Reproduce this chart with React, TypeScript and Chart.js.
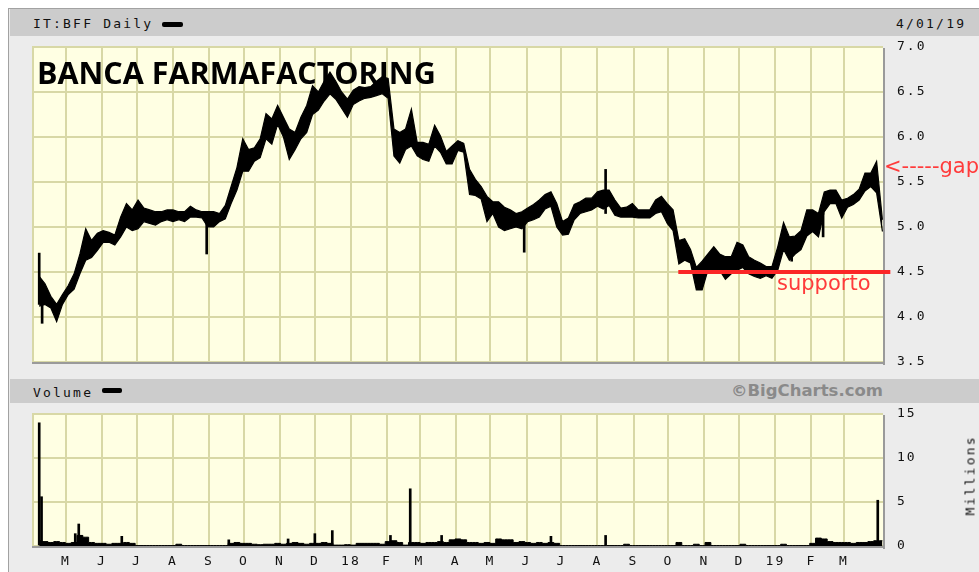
import React, { useEffect, useRef } from "react";
import { Chart, registerables } from "chart.js";

Chart.register(...registerables);

// ---------------- data ----------------
const monthTickLabels = ["M", "J", "J", "A", "S", "O", "N", "D", "18", "F", "M", "A", "M", "J", "J", "A", "S", "O", "N", "D", "19", "F", "M"];
const firstTickMonth = [2017, 4]; // May 2017 (month index 0-based)
const dayZero = [2017, 3, 1]; // 1 April 2017 = day 0
const axisStartDay = 0.8;
const axisEndDay = 732.5;

const priceMin = 3.5;
const priceMax = 7.0;
const priceStep = 0.5;
const volumeMin = 0;
const volumeMax = 15;
const volumeStep = 5;

// price range samples, one every 5 calendar days from day 7 (7 Apr 2017)
const sampleStartDay = 7;
const sampleStepDays = 5;
const priceHigh = [
  4.45, 4.37, 4.23, 4.14, 4.25, 4.35, 4.48, 4.70, 4.98, 4.85,
  4.93, 4.96, 4.94, 4.91, 5.11, 5.26, 5.19, 5.30, 5.21, 5.19,
  5.17, 5.17, 5.19, 5.19, 5.17, 5.17, 5.23, 5.19, 5.17, 5.17,
  5.17, 5.15, 5.24, 5.45, 5.66, 5.98, 5.86, 5.88, 5.98, 6.26,
  6.20, 6.35, 6.22, 6.09, 6.05, 6.22, 6.35, 6.57, 6.50, 6.62,
  6.72, 6.62, 6.50, 6.42, 6.52, 6.56, 6.55, 6.56, 6.62, 6.67,
  6.65, 6.09, 6.05, 6.09, 6.31, 5.94, 5.94, 5.92, 6.13, 6.01,
  5.84, 5.90, 5.96, 5.93, 5.64, 5.53, 5.45, 5.34, 5.28, 5.28,
  5.22, 5.19, 5.15, 5.17, 5.21, 5.25, 5.30, 5.36, 5.39, 5.26,
  5.06, 5.10, 5.25, 5.28, 5.32, 5.32, 5.39, 5.41, 5.41, 5.30,
  5.21, 5.22, 5.26, 5.19, 5.19, 5.19, 5.30, 5.34, 5.26, 5.19,
  4.85, 4.87, 4.75, 4.55, 4.62, 4.70, 4.78, 4.70, 4.67, 4.67,
  4.83, 4.80, 4.67, 4.63, 4.60, 4.56, 4.56, 4.78, 5.05, 4.89,
  4.90, 4.96, 5.19, 5.19, 5.15, 5.39, 5.41, 5.41, 5.30, 5.32,
  5.36, 5.42, 5.60, 5.60, 5.73, 5.08,
];
const priceLow = [
  4.12, 4.14, 4.10, 3.95, 4.14, 4.25, 4.31, 4.48, 4.63, 4.66,
  4.74, 4.83, 4.83, 4.80, 4.89, 5.00, 4.96, 4.98, 5.06, 5.04,
  5.02, 5.06, 5.08, 5.06, 5.08, 5.06, 5.11, 5.11, 5.10, 5.00,
  5.00, 5.06, 5.09, 5.26, 5.41, 5.62, 5.62, 5.73, 5.77, 5.98,
  5.92, 6.14, 6.00, 5.75, 5.86, 5.98, 6.05, 6.25, 6.30, 6.40,
  6.48, 6.42, 6.32, 6.22, 6.36, 6.40, 6.43, 6.44, 6.46, 6.48,
  6.43, 5.79, 5.71, 5.86, 5.90, 5.79, 5.75, 5.73, 5.90, 5.83,
  5.70, 5.70, 5.85, 5.83, 5.36, 5.35, 5.31, 5.06, 5.15, 5.00,
  4.96, 4.98, 5.00, 4.98, 5.06, 5.08, 5.11, 5.20, 5.23, 5.00,
  4.91, 4.92, 5.08, 5.15, 5.17, 5.19, 5.23, 5.20, 5.24, 5.13,
  5.11, 5.11, 5.11, 5.10, 5.10, 5.10, 5.15, 5.17, 5.04, 4.96,
  4.59, 4.63, 4.60, 4.30, 4.30, 4.52, 4.52, 4.52, 4.42, 4.48,
  4.52, 4.55, 4.48, 4.45, 4.43, 4.46, 4.43, 4.52, 4.75, 4.63,
  4.70, 4.75, 4.90, 4.95, 4.89, 5.17, 5.26, 5.26, 5.10, 5.22,
  5.25, 5.30, 5.40, 5.45, 5.38, 4.95,
];

// single-day wicks
const wickDays = [7, 9.5, 151, 424, 494, 654, 681];
const wickLow = [4.14, 3.93, 4.70, 4.72, 5.15, 4.62, 4.89];
const wickHigh = [4.71, 4.35, 5.10, 5.05, 5.64, 4.85, 5.15];

// volume (millions), same 5-day sampling
const volumeBase = [
  0.6, 0.5, 0.4, 0.5, 0.4, 0.3, 0.4, 1.2, 1.0, 0.4,
  0.3, 0.3, 0.2, 0.3, 0.3, 0.4, 0.3, 0.05, 0.05, 0.05,
  0.05, 0.05, 0.05, 0.05, 0.2, 0.05, 0.05, 0.05, 0.05, 0.05,
  0.05, 0.05, 0.05, 0.3, 0.4, 0.3, 0.3, 0.2, 0.15, 0.2,
  0.2, 0.3, 0.2, 0.3, 0.4, 0.3, 0.2, 0.3, 0.3, 0.4,
  0.3, 0.1, 0.1, 0.15, 0.1, 0.3, 0.3, 0.3, 0.3, 0.2,
  0.5, 0.6, 0.4, 0.1, 0.4, 0.4, 0.3, 0.4, 0.4, 0.5,
  0.4, 0.7, 0.8, 0.7, 0.4, 0.4, 0.3, 0.4, 0.3, 0.8,
  0.7, 0.7, 0.4, 0.5, 0.4, 0.3, 0.4, 0.3, 0.4, 0.3,
  0.05, 0.05, 0.05, 0.05, 0.05, 0.05, 0.05, 0.05, 0.05, 0.05,
  0.05, 0.2, 0.05, 0.05, 0.05, 0.05, 0.05, 0.05, 0.05, 0.05,
  0.4, 0.05, 0.05, 0.2, 0.05, 0.4, 0.05, 0.05, 0.05, 0.05,
  0.05, 0.2, 0.05, 0.05, 0.05, 0.05, 0.05, 0.05, 0.2, 0.05,
  0.05, 0.05, 0.05, 0.3, 0.9, 0.8, 0.5, 0.4, 0.4, 0.4,
  0.3, 0.4, 0.4, 0.5, 0.6, 0.6,
];
const volumeSpikeDays = [7, 9, 38, 41, 43, 78, 170, 221, 244, 259, 309, 326, 353, 447, 494, 728];
const volumeSpikeValues = [14.0, 5.6, 1.4, 2.5, 1.2, 1.1, 0.7, 0.8, 1.4, 1.75, 1.2, 6.5, 1.2, 1.1, 1.2, 5.2];

// annotation
const supportLevel = 4.5;
const supportStartDay = 556.5;
const supportEndDay = 738.8;

// ---------------- helpers ----------------
const DAY_MS = 86400000;
const originMs = Date.UTC(dayZero[0], dayZero[1], dayZero[2]);
const monthStartDays = monthTickLabels.map(
  (_, i) => (Date.UTC(firstTickMonth[0], firstTickMonth[1] + i, 1) - originMs) / DAY_MS
);
const sampleDays = priceHigh.map((_, i) => sampleStartDay + i * sampleStepDays);

const GRID = "#d8d8a6";
const PANEL_BG = "#ffffe3";
const monoFont = { family: "'DejaVu Sans Mono', monospace", size: 13 };
const TEXT = "#111";

const panelPlugin = {
  id: "panelBg",
  beforeDraw(chart: any) {
    const { ctx, chartArea: a } = chart;
    ctx.save();
    ctx.fillStyle = PANEL_BG;
    ctx.fillRect(a.left, a.top, a.right - a.left, a.bottom - a.top);
    ctx.restore();
    ctx.letterSpacing = "2px";
  },
  beforeDatasetsDraw(chart: any) {
    const { ctx, chartArea: a } = chart;
    ctx.save();
    ctx.fillStyle = GRID;
    ctx.fillRect(a.left, a.top, 2, a.bottom - a.top);
    ctx.fillStyle = "#9a9a9a";
    ctx.fillRect(a.right, a.top + 1, 2, a.bottom - a.top + 2);
    ctx.fillRect(a.left, a.bottom, a.right - a.left + 2, 2);
    ctx.restore();
  },
};

function makeX(showLabels: boolean): any {
  return {
    type: "linear",
    min: axisStartDay,
    max: axisEndDay,
    offset: false,
    afterBuildTicks: (s: any) => {
      s.ticks = monthStartDays.map((v) => ({ value: v }));
    },
    afterFit: (s: any) => {
      s.height = showLabels ? 26 : 0;
      s.paddingLeft = 0;
      s.paddingRight = 0;
    },
    grid: { color: GRID, lineWidth: 2, drawTicks: false, offset: false },
    border: { display: false },
    ticks: {
      display: showLabels,
      autoSkip: false,
      maxRotation: 0,
      minRotation: 0,
      padding: 8,
      color: TEXT,
      font: monoFont,
      callback: (_v: any, i: number) => monthTickLabels[i],
    },
  };
}

function makeY(min: number, max: number, step: number, fmt: (v: number) => string): any {
  return {
    position: "right",
    min,
    max,
    afterFit: (s: any) => {
      s.width = 96;
      s.paddingTop = 0;
      s.paddingBottom = 0;
    },
    grid: { color: GRID, lineWidth: 2, drawTicks: false },
    border: { display: false },
    ticks: { stepSize: step, padding: 14, color: TEXT, font: monoFont, callback: (v: any) => fmt(Number(v)) },
  };
}

const commonOpts: any = {
  responsive: false,
  animation: false,
  devicePixelRatio: 1,
  plugins: { legend: { display: false }, tooltip: { enabled: false } },
  elements: { line: { tension: 0 }, point: { radius: 0 } },
};

export default function App() {
  const priceRef = useRef<HTMLCanvasElement>(null);
  const volRef = useRef<HTMLCanvasElement>(null);

  useEffect(() => {
    const pc = new Chart(priceRef.current as HTMLCanvasElement, {
      type: "line",
      data: {
        datasets: [
          {
            type: "line",
            data: [
              { x: supportStartDay, y: supportLevel },
              { x: supportEndDay, y: supportLevel },
            ],
            borderColor: "#fb2626",
            borderWidth: 4,
            pointRadius: 0,
            clip: false,
            fill: false,
          } as any,
          {
            type: "line",
            data: sampleDays.map((d, i) => ({ x: d, y: priceLow[i] })),
            borderColor: "#000",
            borderWidth: 1.2,
            pointRadius: 0,
            fill: false,
          },
          {
            type: "line",
            data: sampleDays.map((d, i) => ({ x: d, y: priceHigh[i] })),
            borderColor: "#000",
            borderWidth: 1.2,
            pointRadius: 0,
            fill: "-1",
            backgroundColor: "#000",
          },
          {
            type: "bar",
            data: wickDays.map((d, i) => ({ x: d, y: [wickLow[i], wickHigh[i]] })),
            backgroundColor: "#000",
            barThickness: 2,
          } as any,
        ],
      },
      options: {
        ...commonOpts,
        layout: { padding: { left: 24, top: 10, right: 0, bottom: 10 } },
        scales: {
          x: makeX(false),
          y: makeY(priceMin, priceMax, priceStep, (v) => v.toFixed(1)),
        },
      },
      plugins: [panelPlugin],
    } as any);

    const vc = new Chart(volRef.current as HTMLCanvasElement, {
      type: "line",
      data: {
        datasets: [
          {
            type: "bar",
            data: volumeSpikeDays.map((d, i) => ({ x: d, y: volumeSpikeValues[i] })),
            backgroundColor: "#000",
            barThickness: 2,
          } as any,
          {
            type: "line",
            data: sampleDays.map((d, i) => ({ x: d, y: volumeBase[i] })),
            borderColor: "#000",
            borderWidth: 1,
            stepped: "middle",
            pointRadius: 0,
            fill: "origin",
            backgroundColor: "#000",
          } as any,
        ],
      },
      options: {
        ...commonOpts,
        layout: { padding: { left: 24, top: 10, right: 0, bottom: 0 } },
        scales: {
          x: makeX(true),
          y: makeY(volumeMin, volumeMax, volumeStep, (v) => String(v)),
        },
      },
      plugins: [panelPlugin],
    } as any);

    return () => {
      pc.destroy();
      vc.destroy();
    };
  }, []);

  const mono: React.CSSProperties = {
    position: "absolute",
    fontFamily: "'DejaVu Sans Mono', monospace",
    fontSize: 13,
    lineHeight: "13px",
    letterSpacing: "2.2px",
    color: TEXT,
    whiteSpace: "nowrap",
  };
  const abs: React.CSSProperties = { position: "absolute" };

  return (
    <div style={{ position: "fixed", left: 0, top: 0, width: 979, height: 572, overflow: "hidden", background: "#fff" }}>
      <div style={{ ...abs, left: 8, top: 8, width: 980, height: 570, background: "#ececec", borderLeft: "1px solid #a2a2a2", borderTop: "1px solid #a2a2a2" }} />
      <div style={{ ...abs, left: 10, top: 9, width: 975, height: 27, background: "#cccccc" }} />
      <div style={{ ...mono, left: 33, top: 17 }}>IT:BFF Daily</div>
      <div style={{ ...abs, left: 162, top: 22, width: 21, height: 5, background: "#000", borderRadius: 2 }} />
      <div style={{ ...mono, left: 896, top: 17 }}>4/01/19</div>

      <canvas ref={priceRef} width={971} height={335} style={{ ...abs, left: 8, top: 37, width: 971, height: 335 }} />

      <div style={{ ...abs, left: 37, top: 56.5, fontFamily: "'Open Sans', sans-serif", fontWeight: 700, fontSize: 30.5, lineHeight: "30.5px", color: "#000", whiteSpace: "nowrap" }}>
        BANCA FARMAFACTORING
      </div>
      <div style={{ ...abs, left: 777, top: 273, fontFamily: "'DejaVu Sans', sans-serif", fontSize: 21, lineHeight: "21px", color: "#ff3b3b", whiteSpace: "nowrap" }}>
        supporto
      </div>
      <div style={{ ...abs, left: 884, top: 156, fontFamily: "'DejaVu Sans', sans-serif", fontSize: 21, lineHeight: "21px", color: "#ff3b3b", whiteSpace: "nowrap" }}>
        {"<-----gap"}
      </div>

      <div style={{ ...abs, left: 10, top: 379, width: 975, height: 24, background: "#cccccc" }} />
      <div style={{ ...mono, left: 33, top: 385.5 }}>Volume</div>
      <div style={{ ...abs, left: 102, top: 388, width: 20, height: 5, background: "#000", borderRadius: 2 }} />
      <div style={{ ...abs, left: 583, width: 300, top: 383, textAlign: "right", fontFamily: "'DejaVu Sans', sans-serif", fontWeight: 700, fontSize: 16.5, lineHeight: "16.5px", color: "#8a8a8a", whiteSpace: "nowrap" }}>
        ©BigCharts.com
      </div>

      <canvas ref={volRef} width={971} height={168} style={{ ...abs, left: 8, top: 404, width: 971, height: 168 }} />

      <div style={{ ...mono, left: 930, top: 469, width: 80, textAlign: "center", transform: "rotate(-90deg)", transformOrigin: "40px 6.5px" }}>Millions</div>
    </div>
  );
}
